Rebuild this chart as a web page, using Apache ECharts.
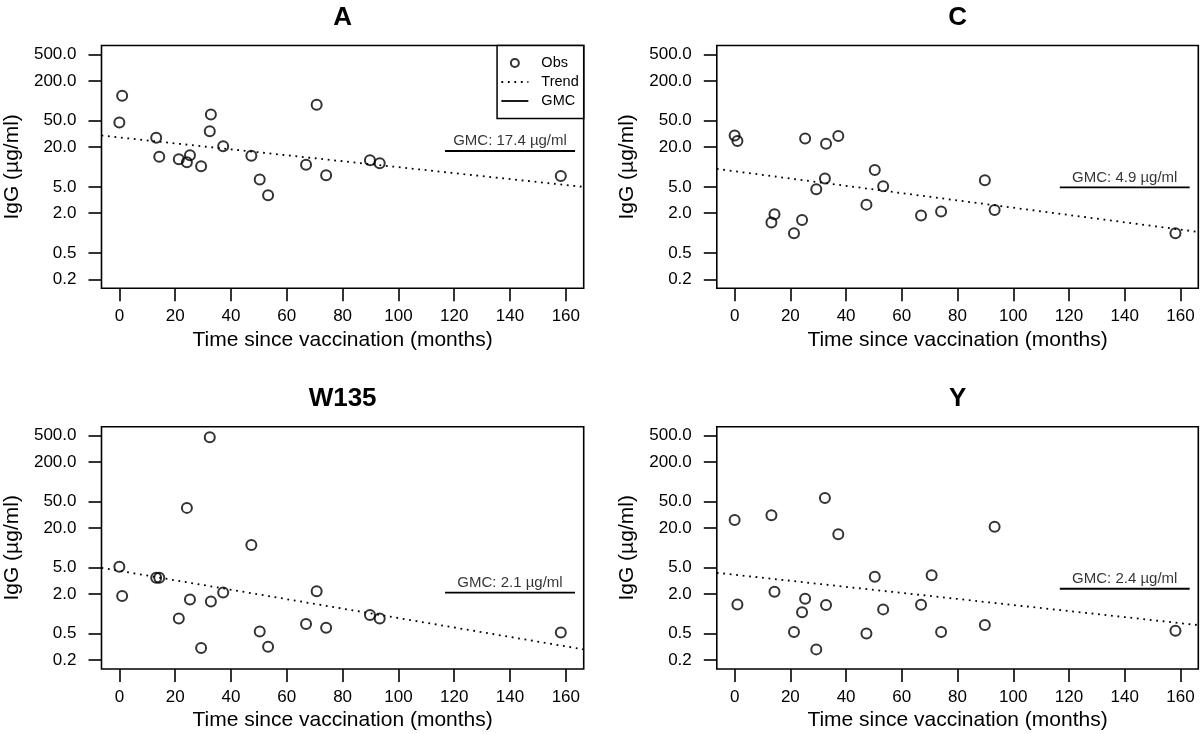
<!DOCTYPE html>
<html><head><meta charset="utf-8">
<script src="https://cdn.jsdelivr.net/npm/echarts@6/dist/echarts.min.js"></script>
<style>html,body{margin:0;padding:0;background:#fff}#c{width:1200px;height:734px}</style>
</head><body><div id="c"></div>
<script>
// ---- data ----
const months = [0, 1, 13.2, 14.3, 21.3, 24.2, 25.3, 29.3, 32.4, 32.8, 37.2, 47.3, 50.3, 53.3, 66.9, 70.7, 74.1, 89.8, 93.3, 158.2];
const igA    = [46.8, 118.5, 27.5, 14.2, 13.1, 11.8, 15.0, 10.2, 34.6, 61.9, 20.5, 14.8, 6.43, 3.73, 10.8, 86.6, 7.48, 12.6, 11.4, 7.31];
const igC    = [29.8, 24.7, 1.44, 1.92, 0.99, 1.58, 26.8, 4.59, 6.66, 22.3, 29.4, 2.69, 9.01, 5.10, 1.84, null, 2.11, 6.29, 2.24, 0.99];
const igW135 = [5.16, 1.86, 3.52, 3.52, 0.853, 40.3, 1.65, 0.304, 472, 1.54, 2.11, 11.0, 0.543, 0.318, 0.70, 2.21, 0.617, 0.958, 0.853, 0.524];
const igY    = [26.5, 1.39, 31.2, 2.16, 0.530, 1.06, 1.69, 0.290, 57.0, 1.36, 16.1, 0.506, 3.64, 1.17, 1.37, 3.86, 0.530, 0.677, 20.8, 0.556];
const panelTitles = ['A', 'C', 'W135', 'Y'];
const gmcValues = [17.4, 4.9, 2.1, 2.4];
const gmcLabels = ['GMC: 17.4 µg/ml', 'GMC: 4.9 µg/ml', 'GMC: 2.1 µg/ml', 'GMC: 2.4 µg/ml'];
const gmcX = [116.7, 163.3];
const trendX = [-6.4, 166.4];
const trendA = [29.8, 4.98];
const trendC = [9.33, 1.04];
const trendW135 = [4.98, 0.29];
const trendY = [4.19, 0.676];
const xTicks = [0, 20, 40, 60, 80, 100, 120, 140, 160];
const yTicks = [0.2, 0.5, 2, 5, 20, 50, 200, 500];
const xRange = [-6.4, 166.4];
const yRange = [0.1463, 683.5];
const xTitle = 'Time since vaccination (months)';
const yTitle = 'IgG (µg/ml)';

// ---- layout ----
const FONT = '"Liberation Sans", Arial, Helvetica, sans-serif';
const panels = [
  {vals: igA, trend: trendA, left: 101.5, top: 45.5, width: 482.2, height: 242.8},
  {vals: igC, trend: trendC, left: 716.8, top: 45.5, width: 481.5, height: 242.8},
  {vals: igW135, trend: trendW135, left: 101.5, top: 426.7, width: 482.2, height: 242.3},
  {vals: igY, trend: trendY, left: 716.8, top: 426.7, width: 481.5, height: 242.3}
];

const grid = [], xAxis = [], yAxis = [], series = [], title = [];
panels.forEach((p, i) => {
  grid.push({left: p.left, top: p.top, width: p.width, height: p.height, show: true,
    borderColor: '#000', borderWidth: 1.6, backgroundColor: 'transparent', containLabel: false});
  title.push({text: panelTitles[i], left: p.left + p.width / 2, top: p.top - 41, textAlign: 'center', padding: 0,
    textStyle: {fontSize: 26, fontWeight: 'bold', color: '#000', fontFamily: FONT}});
  xAxis.push({gridIndex: i, type: 'value', min: xRange[0], max: xRange[1],
    axisLine: {show: false, onZero: false}, splitLine: {show: false},
    axisTick: {show: true, inside: false, length: 13, customValues: xTicks, lineStyle: {color: '#000', width: 1.6}},
    axisLabel: {customValues: xTicks, fontSize: 17, color: '#000', margin: 20, fontFamily: FONT},
    name: xTitle, nameLocation: 'middle', nameGap: 41,
    nameTextStyle: {fontSize: 21, color: '#000', fontFamily: FONT}});
  yAxis.push({gridIndex: i, type: 'log', logBase: 10, min: yRange[0], max: yRange[1],
    axisLine: {show: false, onZero: false}, splitLine: {show: false},
    axisTick: {show: true, inside: false, length: 13, customValues: yTicks, lineStyle: {color: '#000', width: 1.6}},
    axisLabel: {customValues: yTicks, fontSize: 17, color: '#000', margin: 25, fontFamily: FONT,
      formatter: v => Number(v).toFixed(1)},
    name: yTitle, nameLocation: 'middle', nameGap: 79,
    nameTextStyle: {fontSize: 21, color: '#000', fontFamily: FONT}});
  const obs = [];
  months.forEach((m, j) => { if (p.vals[j] != null) obs.push([m, p.vals[j]]); });
  series.push({name: 'Obs', type: 'scatter', xAxisIndex: i, yAxisIndex: i, data: obs,
    symbol: 'circle', symbolSize: 10,
    itemStyle: {color: 'rgba(0,0,0,0)', borderColor: '#000', borderWidth: 2}});
  series.push({name: 'Trend', type: 'line', xAxisIndex: i, yAxisIndex: i, symbol: 'none',
    data: [[trendX[0], p.trend[0]], [trendX[1], p.trend[1]]],
    lineStyle: {color: '#000', width: 1.8, type: [1.8, 4.7]}, itemStyle: {color: '#000'}});
  series.push({name: 'GMC', type: 'line', xAxisIndex: i, yAxisIndex: i, symbol: 'none',
    data: [[gmcX[0], gmcValues[i]], [gmcX[1], gmcValues[i]]],
    lineStyle: {color: '#000', width: 1.8, type: 'solid'}, itemStyle: {color: '#000'}});
  series.push({name: 'GMC label', type: 'scatter', xAxisIndex: i, yAxisIndex: i, symbolSize: 1,
    itemStyle: {color: 'rgba(0,0,0,0)'},
    data: [[(gmcX[0] + gmcX[1]) / 2, gmcValues[i]]],
    label: {show: true, position: 'top', distance: 2, formatter: gmcLabels[i], fontSize: 15, color: '#000', fontFamily: FONT}});
});

const chart = echarts.init(document.getElementById('c'), null, {renderer: 'canvas'});
chart.setOption({
  animation: false,
  backgroundColor: '#fff',
  textStyle: {fontFamily: FONT},
  title, grid, xAxis, yAxis, series,
  legend: {
    data: [
      {name: 'Obs', icon: 'circle', itemStyle: {color: 'rgba(0,0,0,0)', borderColor: '#000', borderWidth: 2}},
      {name: 'Trend', itemStyle: {opacity: 0}},
      {name: 'GMC', itemStyle: {opacity: 0}}
    ],
    orient: 'vertical', right: 1200 - 583.7, top: 45.5,
    itemWidth: 27, itemHeight: 8, itemGap: 4,
    padding: [10, 5, 10, 3.4],
    borderColor: '#000', borderWidth: 1.5, borderRadius: 0, backgroundColor: '#fff',
    selectedMode: false,
    lineStyle: {width: 1.8},
    textStyle: {fontSize: 14.5, color: '#000', fontFamily: FONT, padding: [0, 0, 0, 8], lineHeight: 14}
  }
});
</script>
</body></html>
